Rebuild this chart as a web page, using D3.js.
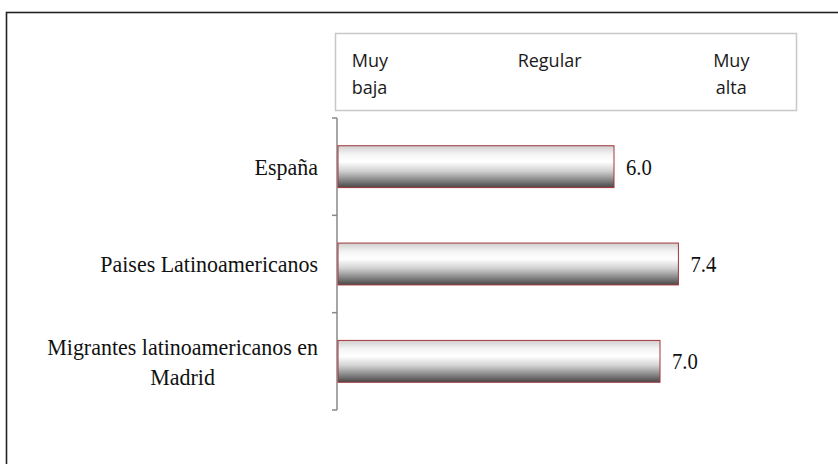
<!DOCTYPE html>
<html>
<head>
<meta charset="utf-8">
<script src="https://cdn.jsdelivr.net/npm/d3@7"></script>
<style>
  body { margin: 0; background: #fff; }
  svg { display: block; }
</style>
</head>
<body>
<div id="chart"></div>
<script>
// data
var categories = ["España", "Paises Latinoamericanos", "Migrantes latinoamericanos en\nMadrid"];
var values = [6.0, 7.4, 7.0];
var scaleLabels = [["Muy", "baja"], ["Regular"], ["Muy", "alta"]];

var width = 838, height = 464;

var svg = d3.select("#chart").append("svg")
    .attr("width", width)
    .attr("height", height);

// outer frame (only left/top fall inside the picture)
svg.append("rect")
    .attr("x", 6.5).attr("y", 12.5)
    .attr("width", 840).attr("height", 460)
    .attr("fill", "none")
    .attr("stroke", "#222")
    .attr("stroke-width", 1.6);

var x = d3.scaleLinear().domain([0, 10]).range([338, 798]);
var y = d3.scaleBand().domain(categories).range([118, 410]);

// gradient for bars
var defs = svg.append("defs");
var grad = defs.append("linearGradient")
    .attr("id", "barGrad")
    .attr("x1", 0).attr("y1", 0).attr("x2", 0).attr("y2", 1);
[[0, "#cfcfcf"], [0.2, "#f4f4f4"], [0.38, "#ffffff"], [0.6, "#d2d2d2"], [0.8, "#8e8e8e"], [1, "#474747"]]
  .forEach(function(s) {
    grad.append("stop").attr("offset", s[0]).attr("stop-color", s[1]);
  });

// legend / scale box on top
svg.append("rect")
    .attr("x", x(0) - 2.5).attr("y", 33.5)
    .attr("width", x(10) - x(0) + 1).attr("height", 77)
    .attr("fill", "#fff")
    .attr("stroke", "#c8c8c8")
    .attr("stroke-width", 1.5);

var legPos = [[x(0.3), "start"], [x(4.6), "middle"], [x(8.55), "middle"]];
scaleLabels.forEach(function(lines, i) {
  var t = svg.append("text")
      .attr("x", legPos[i][0])
      .attr("y", 67)
      .attr("text-anchor", legPos[i][1])
      .style("font-family", "'Open Sans', sans-serif")
      .style("font-size", "18px")
      .style("fill", "#1a1a1a");
  lines.forEach(function(l, j) {
    t.append("tspan").attr("x", legPos[i][0]).attr("dy", j == 0 ? 0 : 27).text(l);
  });
});

// vertical axis with ticks at band edges
var axisX = x(0) - 1;
svg.append("line")
    .attr("x1", axisX).attr("x2", axisX)
    .attr("y1", y.range()[0]).attr("y2", y.range()[1])
    .attr("stroke", "#888").attr("stroke-width", 1.5);

var edges = categories.map(function(c) { return y(c); }).concat([y.range()[1]]);
svg.selectAll(".tick").data(edges)
  .enter().append("line")
    .attr("class", "tick")
    .attr("x1", axisX - 5).attr("x2", axisX)
    .attr("y1", function(d) { return d; })
    .attr("y2", function(d) { return d; })
    .attr("stroke", "#888").attr("stroke-width", 1.5);

// bars
var barH = y.bandwidth() * 0.43;
svg.selectAll(".bar").data(categories)
  .enter().append("rect")
    .attr("class", "bar")
    .attr("x", x(0))
    .attr("y", function(d) { return y(d) + y.bandwidth() / 2 - barH / 2; })
    .attr("width", function(d, i) { return x(values[i]) - x(0); })
    .attr("height", barH)
    .attr("fill", "url(#barGrad)")
    .attr("stroke", "#a3343a")
    .attr("stroke-width", 1);

// value labels (serif, slightly condensed like the original)
svg.selectAll(".val").data(categories)
  .enter().append("g")
    .attr("class", "val")
    .attr("transform", function(d, i) {
      return "translate(" + (x(values[i]) + 12) + "," + (y(d) + y.bandwidth() / 2) + ") scale(0.9,1)";
    })
  .append("text")
    .attr("dy", "0.35em")
    .style("font-family", "'Liberation Serif', 'Times New Roman', serif")
    .style("font-size", "23px")
    .style("fill", "#111")
    .text(function(d, i) { return values[i].toFixed(1); });

// category labels
var labelRight = 318, sx = 0.915;
categories.forEach(function(c) {
  var lines = c.split("\n");
  var cy = y(c) + y.bandwidth() / 2 - (lines.length - 1) * 30 / 2;
  var g = svg.append("g");
  var texts = lines.map(function(l, j) {
    return g.append("text")
      .attr("y", j * 30)
      .attr("dy", "0.35em")
      .attr("text-anchor", "middle")
      .style("font-family", "'Liberation Serif', 'Times New Roman', serif")
      .style("font-size", "24px")
      .style("fill", "#111")
      .text(l);
  });
  var w = d3.max(texts, function(t) { return t.node().getComputedTextLength(); }) * sx;
  g.attr("transform", "translate(" + (labelRight - w / 2) + "," + cy + ") scale(" + sx + ",1)");
});
</script>
</body>
</html>
